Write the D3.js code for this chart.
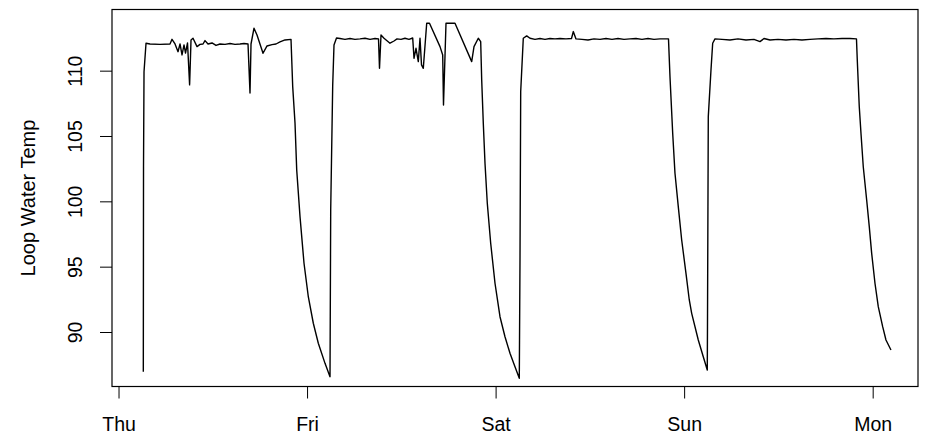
<!DOCTYPE html>
<html>
<head>
<meta charset="utf-8">
<script src="https://cdn.jsdelivr.net/npm/d3@7"></script>
<style>
    body { margin: 0; background: #fff; }
    svg { display: block; font-family: "Liberation Sans", Arial, sans-serif; }
</style>
</head>
<body>
<svg id="chart"></svg>
<script>
// tick labels
const dayLabels = ["Thu", "Fri", "Sat", "Sun", "Mon"];
const tempTicks = [90, 95, 100, 105, 110];

// hours since Thursday 00:00, loop water temperature
const hours = [
    3.157, 3.182, 3.246, 3.500, 4.010, 5.282, 6.555, 6.810, 7.192, 7.574,
    7.828, 8.083, 8.337, 8.528, 8.783, 9.050, 9.228, 9.483, 9.992, 10.374,
    10.756, 11.010, 11.392, 11.901, 12.410, 12.920, 13.556, 14.193, 14.829, 15.465,
    15.974, 16.484, 16.738, 16.866, 17.247, 17.629, 18.393, 18.902, 19.539, 20.048,
    20.557, 21.193, 21.957, 22.173, 22.466, 22.683, 23.103, 23.612, 24.159, 24.796,
    25.432, 26.285, 26.921, 27.010, 27.265, 27.430, 27.749, 28.194, 28.830, 29.467,
    30.103, 30.740, 31.376, 32.013, 32.649, 33.095, 33.222, 33.413, 33.795, 34.558,
    35.068, 35.449, 35.959, 36.467, 36.977, 37.448, 37.613, 37.868, 38.161, 38.377,
    38.568, 38.797, 39.230, 39.586, 40.923, 41.267, 41.368, 41.687, 42.832, 44.958,
    45.251, 45.798, 46.103, 46.231, 46.434, 46.651, 46.943, 47.376, 47.924, 48.560,
    49.196, 49.833, 50.469, 51.017, 51.106, 51.195, 51.526, 51.959, 52.379, 53.015,
    53.651, 54.288, 54.924, 55.561, 56.197, 56.961, 57.661, 57.890, 58.234, 58.998,
    59.761, 60.525, 61.289, 62.052, 62.816, 63.580, 64.344, 65.107, 65.871, 66.635,
    67.398, 68.162, 68.926, 70.008, 70.199, 70.543, 70.835, 71.255, 71.688, 72.235,
    72.656, 72.961, 73.801, 74.437, 74.946, 74.972, 75.074, 75.418, 75.634, 75.927,
    76.818, 77.836, 78.854, 79.873, 80.891, 81.655, 82.164, 82.927, 83.946, 84.964,
    85.982, 87.000, 88.019, 89.037, 90.056, 91.074, 92.093, 93.110, 93.938, 94.040,
    94.294, 94.511, 94.803, 95.236, 95.567, 95.873, 96.293, 96.713, 97.273, 97.693,
    98.329
];
const temps = [
    86.96, 102.65, 109.92, 112.10, 112.04, 112.01, 112.04, 112.40, 112.04, 111.45,
    112.04, 111.20, 111.97, 111.35, 112.12, 108.91, 112.35, 112.48, 111.84, 112.01,
    112.04, 112.30, 112.04, 112.12, 111.93, 112.04, 112.01, 112.08, 112.01, 112.04,
    112.08, 112.04, 108.29, 112.04, 113.25, 112.73, 111.33, 111.89, 111.99, 112.04,
    112.20, 112.35, 112.39, 108.78, 106.00, 102.40, 98.83, 95.26, 92.70, 90.67,
    89.14, 87.60, 86.58, 99.34, 108.91, 111.97, 112.50, 112.46, 112.39, 112.46,
    112.39, 112.43, 112.48, 112.39, 112.46, 112.43, 110.18, 112.73, 112.48, 112.10,
    112.27, 112.43, 112.39, 112.48, 112.39, 112.50, 110.95, 111.71, 110.69, 112.48,
    110.44, 110.18, 113.63, 113.63, 111.84, 111.20, 107.37, 113.63, 113.63, 110.69,
    111.84, 112.48, 112.22, 109.29, 105.97, 102.91, 99.85, 96.79, 93.73, 91.17,
    89.64, 88.37, 87.34, 86.46, 95.51, 108.39, 112.48, 112.66, 112.48, 112.39,
    112.46, 112.39, 112.46, 112.43, 112.46, 112.43, 112.46, 112.99, 112.43, 112.39,
    112.35, 112.43, 112.39, 112.46, 112.39, 112.46, 112.39, 112.43, 112.46, 112.39,
    112.46, 112.39, 112.43, 112.43, 109.54, 105.21, 102.15, 99.59, 97.04, 94.49,
    92.45, 91.43, 89.39, 88.11, 87.09, 90.41, 106.48, 110.05, 112.10, 112.43,
    112.39, 112.35, 112.43, 112.35, 112.39, 112.22, 112.46, 112.35, 112.39, 112.35,
    112.39, 112.35, 112.39, 112.43, 112.46, 112.43, 112.46, 112.46, 112.43, 110.82,
    107.24, 105.21, 102.65, 100.10, 98.06, 96.02, 93.73, 91.94, 90.41, 89.39,
    88.62
];

const config = {
    width: 925,
    height: 434,
    margin: { top: 9.5, right: 7, bottom: 47.5, left: 112 },
    font: 19.5
};

const start = new Date(2014, 0, 2); // a Thursday
const atHour = h => new Date(+start + h * 3600e3);
const data = hours.map((h, i) => ({ date: atHour(h), temp: temps[i] }));

const svg = d3.select("#chart").attr("width", config.width).attr("height", config.height);
const m = config.margin;

const x = d3.scaleTime()
    .domain([atHour(-0.83), atHour(101.77)])
    .range([m.left, config.width - m.right]);
const y = d3.scaleLinear()
    .domain([85.83, 114.68])
    .range([config.height - m.bottom, m.top]);

// x axis (days)
const dayTicks = dayLabels.map((d, i) => d3.timeDay.offset(start, i));
const xAxis = svg.append("g")
    .attr("transform", `translate(0,${config.height - m.bottom})`)
    .call(d3.axisBottom(x).tickValues(dayTicks).tickFormat((d, i) => dayLabels[i]).tickSize(12).tickSizeOuter(0));
xAxis.select(".domain").remove();
xAxis.selectAll("line").attr("stroke", "#000");
xAxis.selectAll("text").attr("y", 44).attr("dy", 0)
    .attr("fill", "#000").style("font-size", config.font + "px").style("font-family", "Liberation Sans, Arial, sans-serif");

// y axis (temperature), labels parallel to the axis
const yAxis = svg.append("g")
    .attr("transform", `translate(${m.left},0)`)
    .call(d3.axisLeft(y).tickValues(tempTicks).tickSize(12).tickSizeOuter(0));
yAxis.select(".domain").remove();
yAxis.selectAll("line").attr("stroke", "#000");
yAxis.selectAll("text")
    .attr("x", 0).attr("y", -30.5).attr("dy", 0)
    .attr("text-anchor", "middle").attr("transform", "rotate(-90)")
    .attr("fill", "#000").style("font-size", config.font + "px").style("font-family", "Liberation Sans, Arial, sans-serif");

svg.append("text")
    .attr("transform", `translate(35,${(m.top + config.height - m.bottom) / 2}) rotate(-90)`)
    .attr("text-anchor", "middle").attr("fill", "#000")
    .style("font-size", "20px")
    .text("Loop Water Temp");

// plot frame
svg.append("rect")
    .attr("x", m.left).attr("y", m.top)
    .attr("width", config.width - m.left - m.right).attr("height", config.height - m.top - m.bottom)
    .attr("fill", "none").attr("stroke", "#000").attr("stroke-width", 1.2);

const line = d3.line().x(d => x(d.date)).y(d => y(d.temp));
svg.append("path").datum(data)
    .attr("d", line)
    .attr("fill", "none").attr("stroke", "#000").attr("stroke-width", 1.4)
    .attr("stroke-linejoin", "round");
</script>
</body>
</html>
